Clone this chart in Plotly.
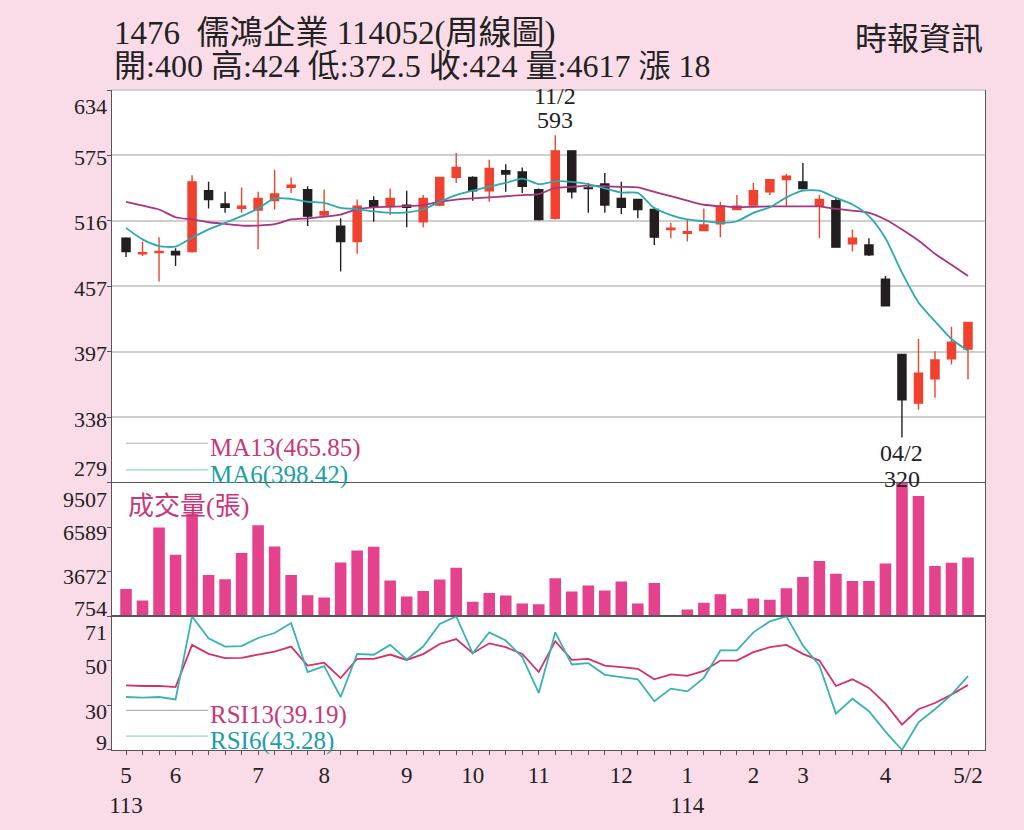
"""Weekly candlestick chart for 1476 儒鴻企業 with MA, volume and RSI panels."""

import plotly.graph_objects as go
from plotly.subplots import make_subplots

# ---- data (113/5 .. 114/5) ----
weeks = list(range(52))

open_ = [500, 486, 487, 488, 488, 543, 531, 527, 525.5, 534,
         546, 544, 521, 511, 497, 534, 529, 530, 515, 530,
         555, 555, 543, 561, 560, 544, 518, 579, 545.5, 549,
         536, 535, 526, 508, 504.5, 507, 513, 526, 530, 542,
         553, 551, 529, 534, 495, 494, 463, 395, 351, 373,
         391, 400]
high = [501, 497, 501, 491, 557, 551, 542, 546, 542, 562,
        555, 547, 544, 518, 535, 538, 545, 543, 539, 555,
        577, 556, 571, 567, 564, 545, 593, 579, 550, 559,
        551, 535, 528, 514, 517, 527, 533, 539, 550, 553,
        558, 568, 539, 536, 508, 500, 466, 395, 409, 398,
        420, 424]
low = [483, 484, 461, 475, 487, 527, 523, 523, 490, 526,
       541, 511, 520, 470, 486, 515, 521, 510, 510, 529,
       550, 534, 533, 542, 541, 516, 517, 536, 523, 523,
       522, 518, 494, 500, 497, 507, 501, 526, 530, 539,
       529, 544, 500, 492, 488, 484, 439, 320, 345, 356,
       386, 372.5]
close = [488, 487, 488, 485, 551, 535, 528, 529, 536, 540,
         548, 520, 524, 497, 529, 528, 536, 528, 536, 555,
         564, 543, 563, 558, 547, 517, 579, 542, 545, 530,
         528, 526, 501, 509, 506, 512, 529, 529, 543, 553,
         556, 545, 535, 492, 500, 485, 439, 354, 378, 390,
         406, 424]

ma13 = [533, 529.5, 526, 519, 517, 514.5, 513, 511.5, 511.5, 512.7,
        517, 518, 519.5, 521.4, 526.4, 528, 528.5, 529, 530, 533,
        535, 536, 537, 538, 539, 540, 545.5, 546.5, 547.5, 547,
        546.5, 546, 542, 538, 534, 530.3, 529, 528.2, 528.5, 528.8,
        528.8, 528.8, 528.8, 526.5, 525, 523, 517, 508, 498, 486,
        476, 465.85]
ma6 = [509.4, 499, 493, 492.5, 500.5, 508, 514, 520, 527, 536,
       535.7, 533, 532, 527.5, 526.4, 524.3, 523, 523.5, 526, 533,
       539, 543, 546.7, 550, 554, 549, 551.5, 551, 549, 545,
       541.3, 541, 527.3, 521, 517, 515.5, 514, 515.4, 523, 528,
       537, 543, 543, 536.5, 530.5, 520, 500, 469, 442, 425,
       409, 398.42]

volume = [2557, 1797, 6575, 4794, 7465, 3469, 3187, 4903, 6727, 5337,
          3469, 2144, 1992, 4294, 5076, 5315, 3100, 2057, 2426, 3165,
          3947, 1710, 2296, 2122, 1601, 1558, 3252, 2383, 2774, 2448,
          3035, 1601, 2948, 790, 1210, 1645, 2209, 1254, 1927, 1840,
          2600, 3339, 4381, 3556, 3078, 3078, 4229, 9507, 8638, 4055,
          4273, 4617]

rsi13 = [39.0, 38.7, 38.8, 38.2, 57.8, 53.6, 51.6, 51.8, 53.3, 54.7,
         57.0, 48.2, 49.5, 42.4, 51.3, 51.3, 53.3, 50.8, 53.5, 58.2,
         60.5, 53.9, 58.5, 56.7, 53.6, 45.2, 59.5, 50.8, 51.3, 48.2,
         47.5, 46.7, 41.8, 44.1, 43.4, 45.7, 50.5, 50.5, 54.4, 56.7,
         57.8, 53.6, 50.5, 38.7, 41.8, 37.8, 30.5, 20.8, 27.9, 30.8,
         34.7, 39.19]
rsi6 = [33.6, 33.3, 33.6, 32.5, 71.0, 60.8, 57.0, 57.2, 61.0, 63.3,
        67.9, 45.2, 47.9, 33.6, 53.6, 53.2, 57.8, 51.0, 57.0, 67.5,
        71.0, 53.9, 63.6, 59.8, 52.1, 35.5, 63.6, 48.7, 49.3, 43.9,
        42.8, 41.8, 31.6, 37.5, 36.2, 42.5, 55.2, 55.2, 63.6, 68.7,
        71.0, 57.5, 48.2, 25.9, 32.8, 27.0, 17.5, 9.0, 21.8, 27.9,
        34.7, 43.28]

# month labels on the week axis
month_ticks = {0: "5<br>113", 3: "6", 8: "7", 12: "8", 17: "9", 21: "10",
               25: "11", 30: "12", 34: "1<br>114", 38: "2", 41: "3",
               46: "4", 51: "5/2"}

price_ticks = [279, 338.17, 397.33, 456.5, 515.67, 574.83, 634]
price_labels = ["279", "338", "397", "457", "516", "575", "634"]
vol_ticks = [754, 3671.67, 6589.33, 9507]
vol_labels = ["754", "3672", "6589", "9507"]
rsi_ticks = [9, 29.67, 50.33, 71]
rsi_labels = ["9", "30", "50", "71"]

# ---- styling ----
FONT = "Liberation Serif, 'Noto Sans CJK TC', serif"
PINK_BG = "#fadce8"
RED = "#f0412e"
BLACK = "#231f20"
VOL_PINK = "#e4428c"
MA13_LINE = "#a8357f"
MA6_LINE = "#2aaab0"
RSI13_LINE = "#d3306c"
RSI6_LINE = "#3ab2b3"
TXT_MAG = "#c8377a"
TXT_TEAL = "#1b9ea8"
AXIS = "#555555"

# plot frame in page pixels
L, R, T, B = 112, 985, 90, 757


def px_x(px):
    return (px - L) / (R - L)


def px_y(py):
    return (B - py) / (B - T)


fig = make_subplots(rows=3, cols=1, shared_xaxes=True, vertical_spacing=0,
                    row_heights=[397, 135, 135])

fig.add_trace(go.Candlestick(
    x=weeks, open=open_, high=high, low=low, close=close,
    increasing=dict(line=dict(color=RED, width=1.4), fillcolor=RED),
    decreasing=dict(line=dict(color=BLACK, width=1.4), fillcolor=BLACK),
    whiskerwidth=0, showlegend=False, hoverinfo="skip",
), row=1, col=1)

fig.add_trace(go.Scatter(x=weeks, y=ma13, mode="lines",
                         line=dict(color=MA13_LINE, width=1.8, shape="spline", smoothing=0.7),
                         hoverinfo="skip"), row=1, col=1)
fig.add_trace(go.Scatter(x=weeks, y=ma6, mode="lines",
                         line=dict(color=MA6_LINE, width=1.8, shape="spline", smoothing=0.7),
                         hoverinfo="skip"), row=1, col=1)

fig.add_trace(go.Bar(x=weeks, y=volume, width=0.7, marker_color=VOL_PINK,
                     marker_line_width=0, hoverinfo="skip"), row=2, col=1)

fig.add_trace(go.Scatter(x=weeks, y=rsi13, mode="lines",
                         line=dict(color=RSI13_LINE, width=1.8), hoverinfo="skip"), row=3, col=1)
fig.add_trace(go.Scatter(x=weeks, y=rsi6, mode="lines",
                         line=dict(color=RSI6_LINE, width=1.8), hoverinfo="skip"), row=3, col=1)

xrange = [-0.85, 52.03]
for r in (1, 2, 3):
    fig.update_xaxes(range=xrange, showline=(r != 1), linecolor=AXIS, linewidth=1.1,
                     mirror=True, showgrid=False, zeroline=False, row=r, col=1)
fig.update_xaxes(rangeslider_visible=False, row=1, col=1)
fig.update_xaxes(tickmode="array", tickvals=weeks,
                 ticktext=[month_ticks.get(w, "") for w in weeks],
                 ticks="outside", ticklen=4, tickcolor=AXIS,
                 tickfont=dict(family=FONT, size=23, color="#222"),
                 showticklabels=True, row=3, col=1)

axis_common = dict(showline=True, linecolor=AXIS, linewidth=1.1, mirror=True,
                   ticks="outside", ticklen=4, tickcolor=AXIS,
                   showticklabels=False, zeroline=False, tickmode="array")
fig.update_yaxes(range=[279, 634], tickvals=price_ticks, showgrid=True,
                 gridcolor="#cfcfcf", gridwidth=1.5, row=1, col=1, **axis_common)
fig.update_yaxes(range=[754, 9507], tickvals=vol_ticks, showgrid=False,
                 row=2, col=1, **axis_common)
fig.update_yaxes(range=[9, 71], tickvals=rsi_ticks, showgrid=False,
                 row=3, col=1, **axis_common)

annotations = []

# y tick labels (end labels pulled inside the panel like the original)
for yref, ticks, labels, shifts in (
    ("y", price_ticks, price_labels, [14, -2, -2, -2, -2, -2, -16]),
    ("y2", vol_ticks, vol_labels, [8, -5, -5, -17]),
    ("y3", rsi_ticks, rsi_labels, [7, -6, -6, -16]),
):
    for v, lab, s in zip(ticks, labels, shifts):
        annotations.append(dict(xref="paper", yref=yref, x=0, y=v, text=lab,
                                xanchor="right", yanchor="middle", xshift=-3, yshift=s,
                                showarrow=False,
                                font=dict(family=FONT, size=22, color="#222")))

# header
annotations += [
    dict(xref="paper", yref="paper", x=0, y=px_y(33), xanchor="left", yanchor="middle",
         text="1476\u00a0\u00a0儒鴻企業 114052(周線圖)", showarrow=False,
         font=dict(family=FONT, size=33, color="#222")),
    dict(xref="paper", yref="paper", x=0, y=px_y(66), xanchor="left", yanchor="middle",
         text="開:400 高:424 低:372.5 收:424 量:4617 漲 18", showarrow=False,
         font=dict(family=FONT, size=32, color="#222")),
    dict(xref="paper", yref="paper", x=1, y=px_y(38), xanchor="right", yanchor="middle",
         text="時報資訊", showarrow=False,
         font=dict(family=FONT, size=32, color="#222")),
]

# high / low markers
marker_font = dict(family=FONT, size=24, color="#222")
annotations += [
    dict(xref="x", yref="y", x=26, y=593, text="593", showarrow=False,
         xanchor="center", yanchor="bottom", yshift=0, font=marker_font),
    dict(xref="x", yref="y", x=26, y=593, text="11/2", showarrow=False,
         xanchor="center", yanchor="bottom", yshift=24, font=marker_font),
    dict(xref="x", yref="y", x=47, y=320, text="04/2", showarrow=False,
         xanchor="center", yanchor="top", yshift=-1, font=marker_font),
    dict(xref="x", yref="y", x=47, y=320, text="320", showarrow=False,
         xanchor="center", yanchor="top", yshift=-27, font=marker_font),
]

# panel legends
legend_items = [
    ("MA13(465.85)", TXT_MAG, 447),
    ("MA6(398.42)", TXT_TEAL, 474),
    ("RSI13(39.19)", TXT_MAG, 717),
    ("RSI6(43.28)", TXT_TEAL, 743),
]
shapes = [dict(type="line", xref="paper", yref="paper", x0=0, x1=1, y0=1, y1=1,
               line=dict(color="#c4c4c4", width=1.5))]
for text, color, py in legend_items:
    annotations.append(dict(xref="paper", yref="paper", x=px_x(208), y=px_y(py + 5),
                            xanchor="left", yanchor="middle", text=text, showarrow=False,
                            font=dict(family=FONT, size=25, color=color)))
    shapes.append(dict(type="line", xref="paper", yref="paper",
                       x0=px_x(126), x1=px_x(208), y0=px_y(py), y1=px_y(py),
                       line=dict(color="#b9aab8" if color == TXT_MAG else "#9ccfd2", width=1.2)))

annotations.append(dict(xref="paper", yref="paper", x=px_x(126), y=px_y(511),
                        xanchor="left", yanchor="middle", text="成交量(張)", showarrow=False,
                        font=dict(family=FONT, size=26, color=TXT_MAG)))

fig.update_layout(
    width=1024, height=830,
    margin=dict(l=L, r=1024 - R, t=T, b=830 - B),
    paper_bgcolor=PINK_BG, plot_bgcolor="white",
    showlegend=False, annotations=annotations, shapes=shapes,
    font=dict(family=FONT, color="#222"),
)

fig.write_html("out.html", config={"displayModeBar": False},
               post_script="document.body.style.margin='0';")
